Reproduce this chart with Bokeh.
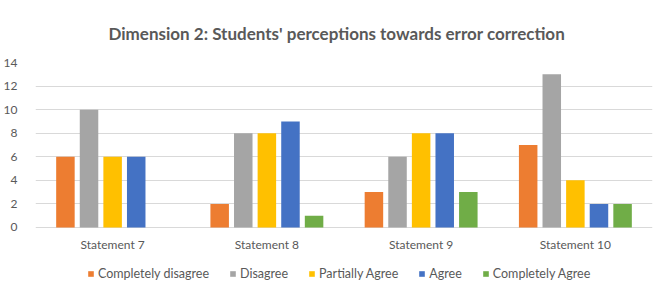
from bokeh.plotting import figure
from bokeh.models import ColumnDataSource, FactorRange, Legend, LegendItem, Title, FixedTicker
from bokeh.core.properties import value
from bokeh.transform import dodge
from bokeh.embed import file_html
from bokeh.resources import INLINE

categories = ["Statement 7", "Statement 8", "Statement 9", "Statement 10"]
completely_disagree = [6, 2, 3, 7]
disagree = [10, 8, 6, 13]
partially_agree = [6, 8, 8, 4]
agree = [6, 9, 8, 2]
completely_agree = [0, 1, 3, 2]
series_names = ["Completely disagree", "Disagree", "Partially Agree", "Agree", "Completely Agree"]
series_values = [completely_disagree, disagree, partially_agree, agree, completely_agree]
colors = ["#ED7D31", "#A5A5A5", "#FFC000", "#4472C4", "#70AD47"]
y_ticks = [0, 2, 4, 6, 8, 10, 12, 14]
title_text = "Dimension 2: Students' perceptions towards error correction"

FONT = "Lato"
TXT = "#595959"

# frame extends below zero so category labels and legend sit inside it
p = figure(x_range=FactorRange(*categories), y_range=(-5.52, 14),
           frame_width=617, frame_height=230, output_backend="svg", toolbar_location=None,
           min_border_left=35, min_border_right=17, min_border_top=62, min_border_bottom=0)
p.title.visible = False
spacer = Title(text=" ", text_font_size="11px", standoff=0)
p.add_layout(spacer, "above")
t = Title(text=title_text, align="left", offset=73, text_font=FONT,
          text_font_size="17px", text_font_style="bold", text_color=TXT)
p.add_layout(t, "above")

data = {"cat": categories}
for name, vals in zip(series_names, series_values):
    data[name] = vals
src = ColumnDataSource(data)

offsets = [-0.306, -0.153, 0.0, 0.153, 0.306]
items = []
for name, off, col in zip(series_names, offsets, colors):
    r = p.vbar(x=dodge("cat", off, range=p.x_range), top=name, width=0.12, source=src,
               fill_color=col, line_color=None)
    items.append(LegendItem(label=name, renderers=[r]))

# category labels (x axis)
p.text(x=categories, y=[-1.44] * len(categories), text=categories,
       text_align="center", text_baseline="middle", text_font=value(FONT),
       text_font_size="12px", text_color=TXT)

legend = Legend(items=items, orientation="horizontal", location=(52, 11),
                glyph_width=7, glyph_height=7, label_standoff=4, spacing=20,
                border_line_color=None, background_fill_alpha=0,
                label_text_font=FONT, label_text_font_size="12.5px", label_text_color=TXT,
                padding=0, margin=0, label_height=14)
p.add_layout(legend, "center")

p.xaxis.visible = False
p.xgrid.grid_line_color = None
p.ygrid.grid_line_color = "#D9D9D9"
p.ygrid.ticker = FixedTicker(ticks=y_ticks)
p.yaxis.ticker = FixedTicker(ticks=y_ticks)
p.outline_line_color = None

p.yaxis.axis_line_color = None
p.yaxis.major_tick_line_color = None
p.yaxis.minor_tick_line_color = None
p.yaxis.major_label_text_font = FONT
p.yaxis.major_label_text_font_size = "12px"
p.yaxis.major_label_text_color = TXT
p.yaxis.major_label_standoff = 12

open("out.html", "w").write(file_html(p, INLINE))
